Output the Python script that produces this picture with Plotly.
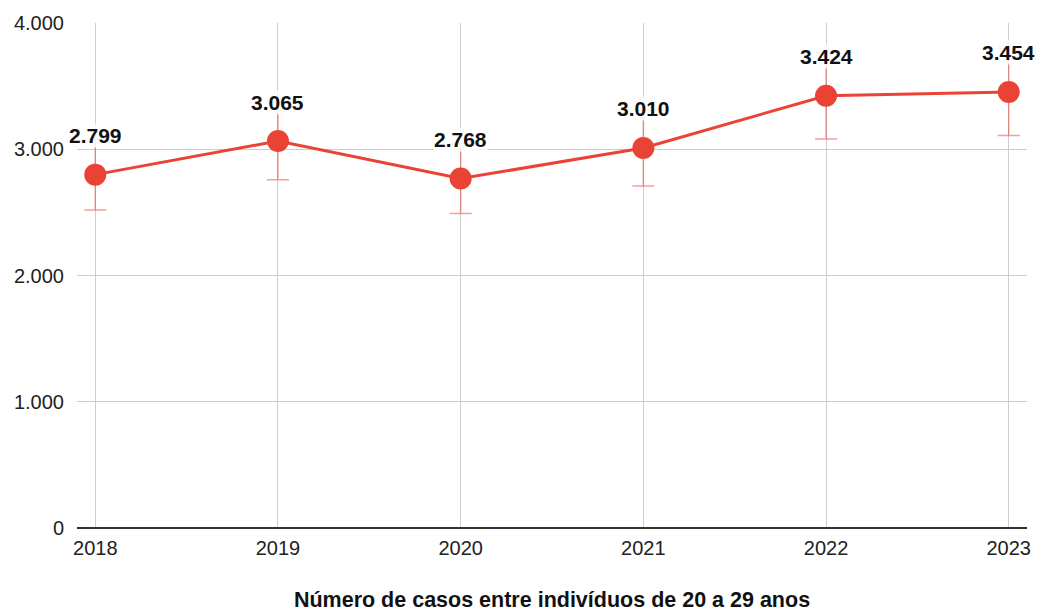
import plotly.graph_objects as go

years = [2018, 2019, 2020, 2021, 2022, 2023]
cases = [2799, 3065, 2768, 3010, 3424, 3454]
labels = ["2.799", "3.065", "2.768", "3.010", "3.424", "3.454"]
err_pct = 10
y_ticks = [0, 1000, 2000, 3000, 4000]
y_ticklabels = ["0", "1.000", "2.000", "3.000", "4.000"]
x_title = "Número de casos entre indivíduos de 20 a 29 anos"

red = "#EA4335"
font_fam = "Liberation Sans, Arial, sans-serif"

fig = go.Figure()
fig.add_trace(go.Scatter(
    x=years, y=cases, mode="lines+markers",
    line=dict(color=red, width=3),
    marker=dict(color=red, size=22),
    error_y=dict(type="percent", value=err_pct, color="rgba(234,67,53,0.5)",
                 thickness=1.5, width=11),
    showlegend=False, hoverinfo="x+y",
))

for x, y, t in zip(years, cases, labels):
    fig.add_annotation(x=x, y=y, text="<b>" + t + "</b>", showarrow=False, yshift=39,
                       font=dict(family=font_fam, size=21, color="#111"),
                       bgcolor="rgba(255,255,255,0.85)", borderpad=0)

fig.update_layout(
    width=1041, height=612,
    margin=dict(l=77, r=14, t=23, b=84),
    paper_bgcolor="white", plot_bgcolor="white",
    font=dict(family=font_fam, size=20, color="#222"),
    separators=",.",
    xaxis=dict(
        range=[2017.9, 2023.1], tickmode="array", tickvals=years,
        ticktext=[str(y) for y in years], automargin=False,
        showgrid=True, gridcolor="#cccccc", gridwidth=1,
        zeroline=False, showline=False, ticks="", ticklabelstandoff=6,
        title=dict(text="<b>" + x_title + "</b>", font=dict(size=21.5, color="#111"), standoff=39),
    ),
    yaxis=dict(
        range=[0, 4000], tickmode="array", tickvals=y_ticks, ticktext=y_ticklabels,
        automargin=False,
        showgrid=True, gridcolor="#cccccc", gridwidth=1,
        zeroline=True, zerolinecolor="#333333", zerolinewidth=2,
        showline=False, ticks="", ticklabelstandoff=12,
    ),
)

fig.write_html("out.html", config={"displayModeBar": False},
               post_script="document.body.style.margin='0';")
